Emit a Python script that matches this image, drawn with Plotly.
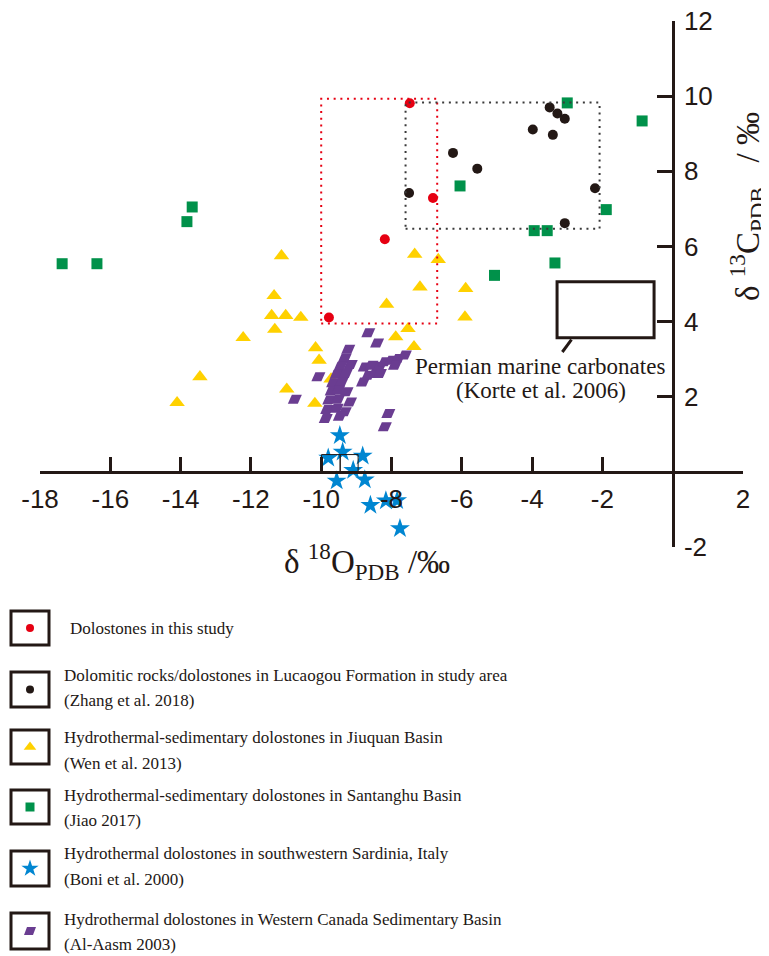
import plotly.graph_objects as go

# ---------------- data (delta18O, delta13C, permil PDB) ----------------
red_x = [-7.48, -6.82, -8.19, -9.78]
red_y = [9.81, 7.29, 6.19, 4.11]

black_x = [-3.50, -3.28, -3.07, -3.98, -3.41, -6.25, -5.56, -7.50, -2.21, -3.07]
black_y = [9.70, 9.54, 9.40, 9.11, 8.97, 8.49, 8.07, 7.42, 7.55, 6.62]

yellow_x = [-11.13, -7.34, -6.67, -7.19, -5.89, -11.34, -8.14, -11.41, -11.01, -10.58,
            -5.91, -11.32, -12.22, -7.53, -7.88, -7.36, -10.16, -10.06, -9.72, -10.98,
            -10.18, -13.45, -14.10]
yellow_y = [5.75, 5.79, 5.65, 4.92, 4.88, 4.69, 4.46, 4.16, 4.16, 4.11,
            4.12, 3.79, 3.57, 3.81, 3.59, 3.33, 3.30, 2.97, 2.47, 2.20,
            1.82, 2.53, 1.84]

green_x = [-13.67, -13.82, -17.37, -16.38, -3.00, -0.87, -6.05, -1.89, -3.94, -3.57, -3.35, -5.07]
green_y = [7.05, 6.66, 5.54, 5.54, 9.82, 9.34, 7.61, 6.98, 6.42, 6.42, 5.56, 5.23]

blue_x = [-9.47, -9.80, -9.39, -8.82, -9.09, -9.56, -8.76, -8.60, -8.16, -7.84, -7.76]
blue_y = [0.97, 0.37, 0.53, 0.42, 0.04, -0.24, -0.21, -0.89, -0.77, -0.76, -1.51]

purple_x = [-8.66, -8.41, -9.23, -9.33, -9.16, -9.45, -9.56, -9.30, -9.66, -9.42,
            -10.08, -9.70, -9.52, -9.28, -9.77, -9.52, -9.18, -9.83, -9.56, -9.33,
            -9.87, -9.47, -10.75, -8.09, -8.19, -8.81, -8.66, -8.47, -8.76, -8.57,
            -8.33, -8.19, -8.33, -8.00, -7.81, -7.62, -7.90]
purple_y = [3.70, 3.43, 3.26, 3.03, 2.86, 2.81, 2.60, 2.62, 2.37, 2.39,
            2.53, 2.15, 2.17, 2.13, 1.91, 1.93, 1.86, 1.66, 1.69, 1.60,
            1.42, 1.48, 1.93, 1.55, 1.20, 2.39, 2.57, 2.62, 2.79, 2.84,
            2.81, 2.93, 2.62, 2.97, 3.02, 3.11, 2.84]

# reference fields
red_box = [-10.0, -6.7, 3.95, 9.93]        # x0, x1, y0, y1
black_box = [-7.6, -2.08, 6.47, 9.83]
permian_box = [-3.29, -0.53, 3.57, 5.06]
permian_leader = [-2.88, 3.52, -3.14, 3.19]
small_boxes = [[-9.99, -9.46, 0.0, 0.46], [-9.46, -8.95, 0.0, 0.46]]

x_ticks = [-18, -16, -14, -12, -10, -8, -6, -4, -2, 2]
y_ticks = [-2, 2, 4, 6, 8, 10, 12]
x_range = [-18, 2]
y_range = [-2, 12]

legend_labels = [
    ["Dolostones in this study"],
    ["Dolomitic rocks/dolostones in Lucaogou Formation in study area", "(Zhang et al. 2018)"],
    ["Hydrothermal-sedimentary dolostones in Jiuquan Basin", "(Wen et al. 2013)"],
    ["Hydrothermal-sedimentary dolostones in Santanghu Basin", "(Jiao 2017)"],
    ["Hydrothermal dolostones in southwestern Sardinia, Italy", "(Boni et al. 2000)"],
    ["Hydrothermal dolostones in Western Canada Sedimentary Basin", "(Al-Aasm 2003)"],
]

# ---------------- styling ----------------
W, H = 769, 956
OFF = 8   # default page body margin: figure is drawn 8px right/down of the window corner
AX = "#231815"
RED = "#E60012"
YEL = "#FFD100"
GRN = "#00914A"
BLU = "#0086D1"
PUR = "#6A3D91"
SERIF = "Liberation Serif, Times New Roman, serif"
SANS = "Liberation Sans, Arial, sans-serif"

# plot area in window pixels, converted to figure fractions
PX_L, PX_R, PX_T, PX_B = 40 - OFF, 743 - OFF, 21 - OFF, 547 - OFF
xdom = [PX_L / W, PX_R / W]
ydom = [(H - PX_B) / H, (H - PX_T) / H]
xpos = xdom[0] + (0 - x_range[0]) / (x_range[1] - x_range[0]) * (xdom[1] - xdom[0])
ypos = ydom[0] + (0 - y_range[0]) / (y_range[1] - y_range[0]) * (ydom[1] - ydom[0])

PARA = "M-7,-4.5L3,-4.5L7,4.5L-3,4.5Z"

fig = go.Figure()

def add_pts(x, y, symbol, size, color, name, xa="x", ya="y"):
    fig.add_trace(go.Scatter(x=x, y=y, mode="markers", name=name, xaxis=xa, yaxis=ya,
                             marker=dict(symbol=symbol, size=size, color=color, line=dict(width=0)),
                             cliponaxis=False, showlegend=False, hoverinfo="x+y"))

add_pts(yellow_x, yellow_y, "triangle-up", 13.5, YEL, "Jiuquan")
add_pts(green_x, green_y, "square", 11, GRN, "Santanghu")
add_pts(blue_x, blue_y, "star", 15, BLU, "Sardinia")
add_pts(black_x, black_y, "circle", 10, AX, "Lucaogou")
add_pts(red_x, red_y, "circle", 10, RED, "This study")

shapes = []
for px_, py_ in zip(purple_x, purple_y):
    shapes.append(dict(type="path", xref="x", yref="y", xsizemode="pixel", ysizemode="pixel",
                       xanchor=px_, yanchor=py_, path=PARA, fillcolor=PUR,
                       line=dict(width=0), layer="above"))

def dotted_box(b, color):
    return dict(type="rect", xref="x", yref="y", x0=b[0], x1=b[1], y0=b[2], y1=b[3],
                line=dict(color=color, width=2, dash="2px,4.7px"), layer="above")

shapes.append(dotted_box(red_box, RED))
shapes.append(dotted_box(black_box, "#3a3a3a"))
shapes.append(dict(type="rect", xref="x", yref="y", x0=permian_box[0], x1=permian_box[1],
                   y0=permian_box[2], y1=permian_box[3], line=dict(color=AX, width=3)))
shapes.append(dict(type="line", xref="x", yref="y", x0=permian_leader[0], y0=permian_leader[1],
                   x1=permian_leader[2], y1=permian_leader[3], line=dict(color=AX, width=3)))
for b in small_boxes:
    shapes.append(dict(type="rect", xref="x", yref="y", x0=b[0], x1=b[1], y0=b[2], y1=b[3],
                       line=dict(color=AX, width=1)))

NB = "\u00a0"
annotations = [
    dict(xref="x", yref="y", x=-3.78, y=2.81, text="Permian marine carbonates", showarrow=False,
         font=dict(family=SERIF, size=23, color=AX), xanchor="center", yanchor="middle"),
    dict(xref="x", yref="y", x=-3.75, y=2.17, text="(Korte et al. 2006)", showarrow=False,
         font=dict(family=SERIF, size=23, color=AX), xanchor="center", yanchor="middle"),
    # axis titles placed in the window-pixel frame (x2/y2)
    dict(xref="x2", yref="y2", x=367, y=561,
         text="δ" + NB + "<sup>18</sup>O<sub>PDB</sub>" + NB + "/‰", showarrow=False,
         font=dict(family=SERIF, size=33, color=AX), xanchor="center", yanchor="middle"),
    dict(xref="x2", yref="y2", x=747, y=207, textangle=-90,
         text="δ" + NB + "<sup>13</sup>C<sub>PDB</sub>" + NB * 3 + "/" + NB + "‰", showarrow=False,
         font=dict(family=SERIF, size=33, color=AX), xanchor="center", yanchor="middle"),
]

# ---------------- custom legend (window-pixel frame on hidden axes x2/y2) ----------------
box_tops = [611, 672, 730, 790, 851, 913]
box_bots = [645, 707, 764, 824, 886, 949]
line_ys = [[628], [675, 700], [737, 763], [795, 820], [853, 879], [919, 944]]
text_x = [68, 62, 62, 62, 62, 62]
leg_syms = [("circle", 8, RED), ("circle", 8, AX), ("triangle-up", 11, YEL),
            ("square", 9, GRN), ("star", 13, BLU), (None, 0, PUR)]

for i in range(6):
    shapes.append(dict(type="rect", xref="x2", yref="y2", x0=11, x1=49, y0=box_tops[i], y1=box_bots[i],
                       line=dict(color=AX, width=3)))
    cy = (box_tops[i] + box_bots[i]) / 2
    sym, sz, col = leg_syms[i]
    if sym is None:
        shapes.append(dict(type="path", xref="x2", yref="y2", xsizemode="pixel", ysizemode="pixel",
                           xanchor=30, yanchor=cy, path="M-6,-4L3,-4L6,4L-3,4Z",
                           fillcolor=col, line=dict(width=0)))
    else:
        add_pts([30], [cy], sym, sz, col, legend_labels[i][0], xa="x2", ya="y2")
    for txt, ly in zip(legend_labels[i], line_ys[i]):
        annotations.append(dict(xref="x2", yref="y2", x=text_x[i], y=ly, text=txt, showarrow=False,
                                xanchor="left", yanchor="middle",
                                font=dict(family=SERIF, size=17, color=AX)))

fig.update_layout(
    template="none",
    width=W, height=H, margin=dict(l=0, r=0, t=0, b=0, pad=0, autoexpand=False),
    paper_bgcolor="white", plot_bgcolor="rgba(0,0,0,0)",
    showlegend=False,
    xaxis=dict(domain=xdom, range=x_range, anchor="free", position=ypos, side="bottom",
               automargin=False, ticklabeloverflow="allow",
               showline=True, linecolor=AX, linewidth=3, ticks="inside", ticklen=14, tickwidth=3,
               tickcolor=AX, tickvals=x_ticks, ticktext=[str(v) for v in x_ticks],
               tickfont=dict(family=SANS, size=26, color=AX), showgrid=False, zeroline=False,
               ticklabelstandoff=3),
    yaxis=dict(domain=ydom, range=y_range, anchor="free", position=xpos, side="right",
               automargin=False, ticklabeloverflow="allow",
               showline=True, linecolor=AX, linewidth=3, ticks="inside", ticklen=15, tickwidth=3,
               tickcolor=AX, tickvals=y_ticks, ticktext=[str(v) for v in y_ticks],
               tickfont=dict(family=SANS, size=26, color=AX), showgrid=False, zeroline=False,
               ticklabelstandoff=4),
    # hidden frame whose units are window pixels (accounts for the page offset)
    xaxis2=dict(domain=[0, 1], range=[OFF, W + OFF], anchor="y2", visible=False, fixedrange=True,
                automargin=False),
    yaxis2=dict(domain=[0, 1], range=[H + OFF, OFF], anchor="x2", visible=False, fixedrange=True,
                automargin=False),
    shapes=shapes,
    annotations=annotations,
)

fig.write_html("out.html")
